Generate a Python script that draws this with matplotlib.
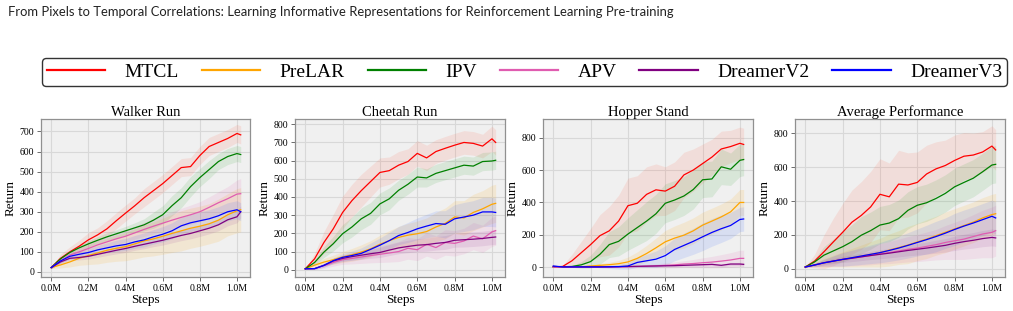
import matplotlib
matplotlib.use("Agg")
import matplotlib.pyplot as plt
import numpy as np
from matplotlib.lines import Line2D
from matplotlib.ticker import FuncFormatter, MultipleLocator

plt.rcParams['font.family'] = ['Liberation Serif', 'DejaVu Serif']

steps = [0.0, 0.05, 0.1, 0.15, 0.2, 0.25, 0.3, 0.35, 0.4, 0.45, 0.5, 0.55,
         0.6, 0.65, 0.7, 0.75, 0.8, 0.85, 0.9, 0.95, 1.0, 1.02]

methods = ["MTCL", "PreLAR", "IPV", "APV", "DreamerV2", "DreamerV3"]
colors = ["#ff0000", "#ffa500", "#008000", "#e05cb0", "#800080", "#0000ff"]
fill_colors = ["#ff5a3c", "#ffa500", "#2ca02c", "#e05cb0", "#9a3a9a", "#3060ff"]
titles = ["Walker Run", "Cheetah Run", "Hopper Stand", "Average Performance"]

# ---- Walker Run: mean / std ----
walker_mean = {
    "MTCL":      [22, 68, 100, 128, 160, 185, 215, 255, 293, 330, 370, 405, 440, 480, 520, 525, 580, 625, 645, 665, 690, 683],
    "PreLAR":    [22, 35, 50, 68, 82, 95, 108, 118, 126, 140, 155, 165, 178, 192, 205, 218, 228, 240, 258, 285, 305, 310],
    "IPV":       [22, 65, 97, 120, 140, 158, 175, 190, 205, 220, 235, 258, 285, 330, 370, 425, 470, 510, 550, 575, 590, 585],
    "APV":       [22, 55, 84, 100, 117, 135, 150, 165, 178, 195, 212, 228, 243, 258, 272, 285, 300, 322, 345, 365, 388, 390],
    "DreamerV2": [22, 50, 68, 72, 78, 88, 98, 108, 117, 128, 138, 148, 158, 170, 182, 192, 205, 218, 235, 260, 275, 300],
    "DreamerV3": [22, 55, 78, 88, 97, 110, 120, 130, 137, 150, 160, 175, 188, 205, 230, 245, 255, 265, 280, 300, 310, 300],
}
walker_std = {
    "MTCL":      [5, 20, 25, 30, 35, 35, 40, 40, 40, 40, 45, 45, 45, 45, 45, 45, 45, 45, 45, 45, 45, 45],
    "PreLAR":    [5, 15, 25, 35, 45, 55, 60, 65, 70, 75, 80, 85, 90, 95, 100, 100, 100, 100, 105, 105, 110, 110],
    "IPV":       [5, 10, 12, 15, 15, 18, 20, 20, 22, 25, 30, 40, 45, 50, 50, 50, 45, 45, 40, 40, 40, 40],
    "APV":       [5, 10, 15, 18, 20, 22, 25, 28, 30, 32, 35, 38, 40, 42, 45, 48, 50, 52, 55, 60, 70, 75],
    "DreamerV2": [5, 8, 10, 12, 14, 15, 16, 18, 20, 20, 22, 22, 24, 25, 26, 27, 28, 28, 30, 30, 30, 30],
    "DreamerV3": [5, 10, 15, 18, 20, 22, 25, 28, 30, 32, 35, 36, 38, 40, 42, 43, 45, 45, 45, 45, 45, 45],
}

# ---- Cheetah Run ----
cheetah_mean = {
    "MTCL":      [5, 60, 150, 225, 315, 380, 435, 485, 535, 545, 575, 595, 640, 615, 650, 668, 685, 700, 695, 680, 720, 700],
    "PreLAR":    [5, 25, 42, 55, 70, 82, 97, 115, 140, 160, 178, 190, 198, 210, 235, 255, 290, 285, 315, 335, 360, 365],
    "IPV":       [5, 40, 97, 143, 198, 235, 280, 310, 362, 390, 437, 470, 510, 505, 530, 545, 560, 575, 570, 595, 598, 602],
    "APV":       [5, 6, 22, 40, 55, 62, 70, 78, 85, 92, 100, 118, 110, 140, 122, 150, 145, 158, 185, 170, 208, 215],
    "DreamerV2": [5, 6, 24, 48, 62, 72, 80, 88, 95, 108, 120, 128, 135, 138, 145, 150, 162, 165, 168, 172, 178, 180],
    "DreamerV3": [5, 6, 24, 50, 68, 78, 90, 112, 135, 160, 188, 205, 225, 240, 254, 250, 280, 290, 300, 318, 318, 315],
}
cheetah_std = {
    "MTCL":      [0, 30, 60, 80, 90, 90, 90, 85, 80, 75, 75, 70, 70, 70, 65, 65, 65, 65, 65, 65, 70, 70],
    "PreLAR":    [0, 10, 20, 25, 30, 35, 40, 45, 50, 55, 60, 65, 70, 75, 80, 85, 90, 95, 100, 100, 105, 105],
    "IPV":       [0, 15, 30, 40, 50, 55, 60, 60, 60, 60, 55, 55, 55, 50, 50, 50, 50, 50, 50, 50, 50, 50],
    "APV":       [0, 5, 15, 20, 25, 30, 35, 40, 45, 50, 55, 60, 60, 65, 65, 70, 70, 70, 75, 75, 80, 80],
    "DreamerV2": [0, 5, 10, 15, 18, 20, 22, 25, 28, 30, 32, 34, 35, 36, 37, 38, 38, 40, 40, 40, 40, 40],
    "DreamerV3": [0, 5, 10, 15, 20, 25, 30, 35, 40, 45, 50, 55, 60, 65, 70, 75, 78, 80, 80, 80, 80, 80],
}

# ---- Hopper Stand ----
hopper_mean = {
    "MTCL":      [3, 5, 40, 90, 140, 195, 225, 285, 380, 395, 450, 478, 470, 500, 570, 600, 640, 680, 730, 745, 765, 758],
    "PreLAR":    [0, 0, 1, 3, 8, 12, 16, 22, 33, 55, 85, 120, 157, 180, 198, 225, 260, 285, 311, 342, 400, 400],
    "IPV":       [2, 3, 5, 15, 35, 80, 140, 160, 205, 245, 285, 330, 395, 415, 440, 480, 540, 545, 620, 605, 660, 665],
    "APV":       [0, 0, 0, 0, 0, 0, 0, 2, 3, 5, 7, 9, 12, 15, 20, 23, 28, 32, 38, 45, 55, 55],
    "DreamerV2": [5, 3, 3, 3, 3, 3, 3, 4, 5, 6, 7, 8, 9, 10, 12, 14, 16, 18, 12, 20, 20, 18],
    "DreamerV3": [8, 2, 2, 2, 2, 2, 3, 4, 8, 30, 40, 50, 72, 110, 135, 160, 188, 215, 238, 258, 295, 298],
}
hopper_std = {
    "MTCL":      [0, 5, 40, 70, 100, 130, 150, 160, 170, 170, 170, 160, 150, 150, 140, 130, 120, 110, 110, 100, 100, 100],
    "PreLAR":    [0, 0, 1, 3, 8, 12, 15, 20, 30, 40, 50, 60, 70, 75, 80, 80, 80, 80, 80, 80, 80, 80],
    "IPV":       [0, 0, 5, 20, 40, 60, 80, 90, 100, 110, 120, 120, 120, 120, 120, 120, 110, 110, 110, 100, 100, 100],
    "APV":       [0, 0, 0, 0, 0, 0, 2, 4, 6, 8, 10, 12, 15, 18, 20, 25, 30, 35, 40, 45, 50, 50],
    "DreamerV2": [0, 1, 1, 1, 1, 1, 2, 2, 3, 3, 4, 4, 5, 5, 6, 6, 7, 8, 8, 9, 10, 10],
    "DreamerV3": [0, 0, 0, 0, 0, 5, 10, 15, 20, 30, 40, 50, 60, 70, 75, 80, 85, 85, 85, 80, 75, 75],
}

# ---- Average Performance ----
average_mean = {
    "MTCL":      [10, 45, 100, 158, 215, 275, 315, 365, 440, 425, 500, 495, 510, 560, 590, 610, 640, 665, 672, 690, 725, 702],
    "PreLAR":    [10, 22, 35, 45, 55, 65, 75, 85, 95, 110, 125, 140, 158, 175, 195, 215, 235, 255, 275, 300, 320, 325],
    "IPV":       [10, 40, 80, 105, 130, 160, 198, 225, 258, 270, 296, 345, 375, 390, 415, 445, 484, 510, 535, 573, 613, 617],
    "APV":       [10, 22, 35, 45, 55, 62, 70, 78, 88, 95, 105, 115, 122, 132, 142, 155, 165, 175, 190, 205, 215, 225],
    "DreamerV2": [10, 22, 35, 45, 55, 62, 70, 78, 85, 92, 100, 108, 115, 122, 130, 138, 150, 160, 168, 178, 185, 182],
    "DreamerV3": [10, 22, 35, 45, 55, 65, 75, 85, 95, 108, 122, 138, 155, 172, 190, 210, 232, 252, 270, 290, 310, 300],
}
average_std = {
    "MTCL":      [0, 40, 100, 140, 170, 190, 200, 210, 210, 200, 200, 190, 180, 170, 160, 150, 150, 140, 130, 120, 120, 120],
    "PreLAR":    [0, 10, 25, 35, 45, 55, 65, 75, 85, 95, 100, 110, 110, 115, 115, 120, 120, 120, 120, 120, 120, 120],
    "IPV":       [0, 20, 50, 70, 90, 100, 110, 110, 110, 110, 110, 110, 110, 110, 110, 110, 110, 110, 110, 110, 110, 110],
    "APV":       [0, 10, 20, 30, 40, 45, 50, 55, 60, 65, 70, 75, 80, 85, 90, 100, 110, 120, 130, 140, 150, 150],
    "DreamerV2": [0, 8, 12, 15, 18, 20, 22, 24, 26, 28, 30, 32, 34, 36, 38, 40, 42, 44, 46, 48, 50, 50],
    "DreamerV3": [0, 10, 20, 30, 40, 45, 50, 55, 60, 65, 70, 75, 80, 85, 90, 90, 95, 95, 95, 95, 95, 95],
}

panels = [
    (walker_mean, walker_std, (-25, 762), 100),
    (cheetah_mean, cheetah_std, (-40, 829), 100),
    (hopper_mean, hopper_std, (-60, 915), 200),
    (average_mean, average_std, (-49, 885), 200),
]

W, H = 1013, 311
fig = plt.figure(figsize=(W / 100, H / 100), dpi=100)

fig.text(8 / W, 1 - 12 / H,
         "From Pixels to Temporal Correlations: Learning Informative Representations for Reinforcement Learning Pre-training",
         family=['Lato', 'DejaVu Sans'], fontsize=9.4, color="#222222", va="center", ha="left")

ax_px = [(41, 250), (295, 505), (543, 753), (795, 1005)]
top_px, bot_px = 119, 277

x = np.array(steps)
for i, (means, stds, ylim, ystep) in enumerate(panels):
    l, r = ax_px[i]
    ax = fig.add_axes([l / W, (H - bot_px) / H, (r - l) / W, (bot_px - top_px) / H])
    ax.set_facecolor("#f0f0f0")
    for m, fc in zip(methods, fill_colors):
        mu = np.array(means[m], dtype=float)
        sd = np.array(stds[m], dtype=float)
        ax.fill_between(x, mu - sd, mu + sd, color=fc, alpha=0.12, linewidth=0)
    for m, c in zip(methods, colors):
        ax.plot(x, means[m], color=c, linewidth=0.9)
    ax.set_xlim(-0.055, 1.07)
    ax.set_ylim(*ylim)
    ax.xaxis.set_major_locator(MultipleLocator(0.2))
    ax.yaxis.set_major_locator(MultipleLocator(ystep))
    ax.xaxis.set_major_formatter(FuncFormatter(lambda v, p: f"{v:.1f}M"))
    ax.grid(True, color="#d8d8d8", linewidth=0.8)
    ax.set_axisbelow(True)
    for s in ax.spines.values():
        s.set_color("#909090")
        s.set_linewidth(0.9)
    ax.tick_params(labelsize=7, length=3, width=0.6, color="#555555", pad=2)
    ax.set_title(titles[i], fontsize=10.5, pad=2)
    ax.set_xlabel("Steps", fontsize=9.5, labelpad=1)
    ax.set_ylabel("Return", fontsize=9.5, labelpad=2)

handles = [Line2D([0], [0], color=c, linewidth=1.6) for c in colors]
leg = fig.legend(handles, methods, loc="center", ncol=6,
                 bbox_to_anchor=(42 / W, 1 - 87 / H, (1007 - 42) / W, 30 / H),
                 mode="expand", fontsize=14, frameon=True, fancybox=True,
                 handlelength=3.0, handletextpad=1.0, borderaxespad=0,
                 borderpad=0.25)
leg.get_frame().set_edgecolor("black")
leg.get_frame().set_linewidth(1.0)

fig.savefig("out.png", dpi=100)
